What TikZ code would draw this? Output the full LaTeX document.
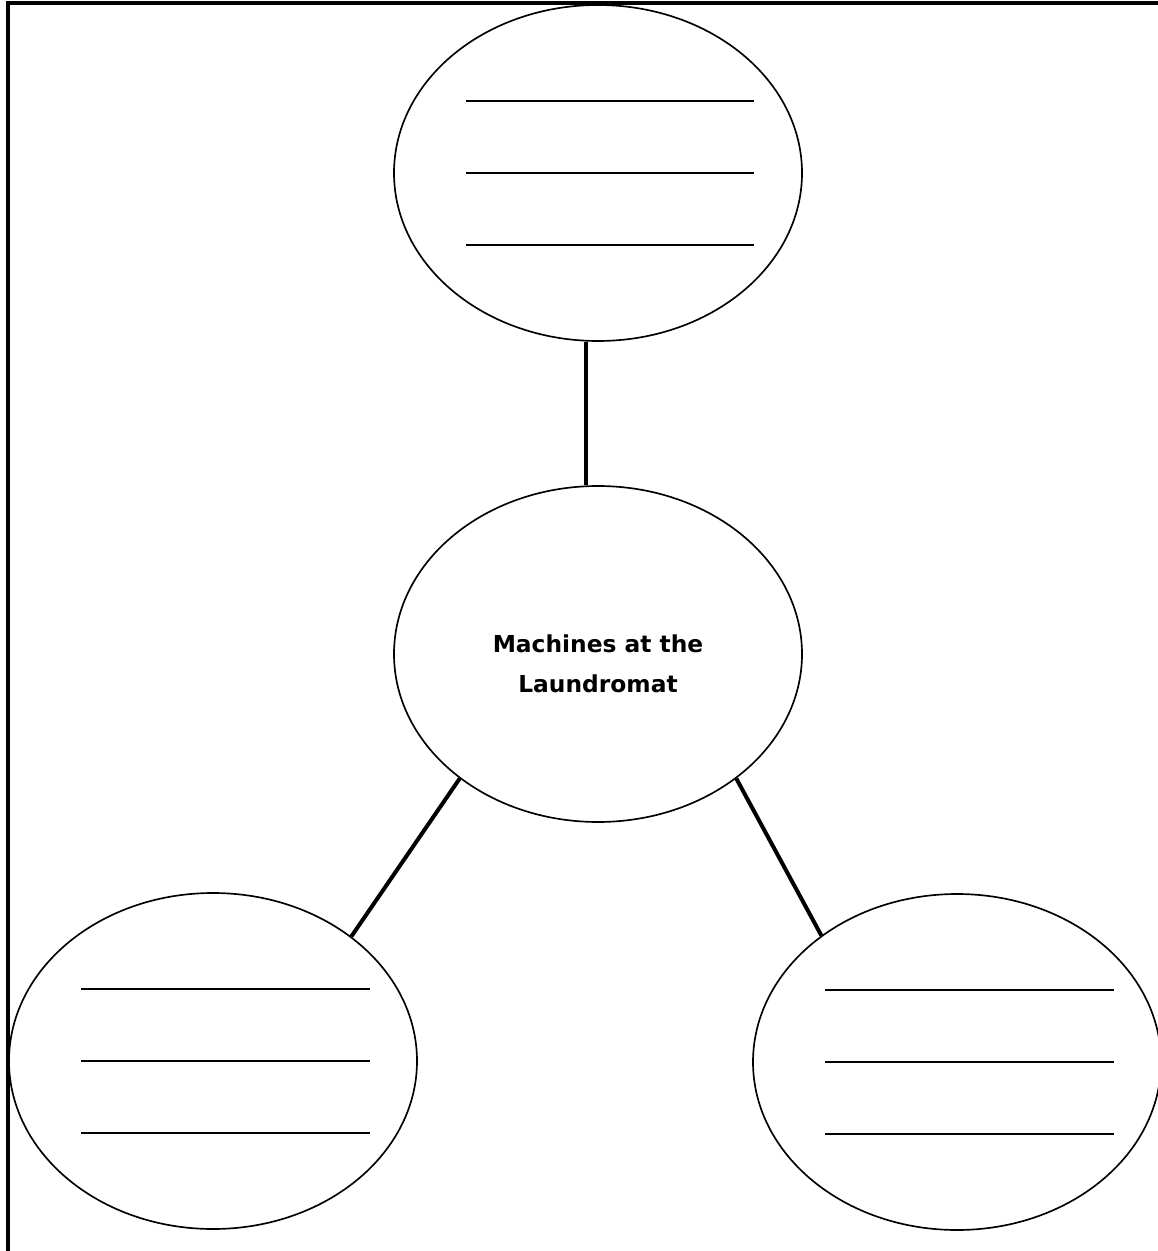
\documentclass[tikz,border=0pt]{standalone}
\usepackage{fontspec}
\setmainfont{DejaVu Sans}
\usetikzlibrary{shapes.geometric}
\tikzset{
  bubble/.style={draw, ellipse, line width=1.25pt, minimum width=306pt, minimum height=252pt, inner sep=0pt},
  writeline/.style={line width=1.2pt},
  link/.style={line width=3pt},
  frame/.style={line width=3pt},
  titletext/.style={align=center, font=\bfseries\fontsize{17.5}{30}\selectfont, inner sep=0pt}
}
\begin{document}
\begin{tikzpicture}[x=0.75pt,y=-0.75pt]
\useasboundingbox (0,0) rectangle (1157,1251);
\draw[frame] (8,1260) -- (8,3) -- (1165,3);
\node[bubble] (top) at (598,173) {};
\node[bubble] (mid) at (598,654) {};
\node[titletext] (title) at ([yshift=-7pt]mid.center) {Machines at the\\Laundromat};
\node[bubble] (bl) at (213,1061) {};
\node[bubble] (br) at (957,1062) {};
% writing lines
\foreach \yy/\n in {-72/a,0/b,72/c}{
  \coordinate (t\n l) at ([shift={(-132,\yy)}]top.center);
  \coordinate (t\n r) at ([shift={(156,\yy)}]top.center);
  \draw[writeline] (t\n l) -- (t\n r);
  \coordinate (l\n l) at ([shift={(-132,\yy)}]bl.center);
  \coordinate (l\n r) at ([shift={(157,\yy)}]bl.center);
  \draw[writeline] (l\n l) -- (l\n r);
  \coordinate (r\n l) at ([shift={(-132,\yy)}]br.center);
  \coordinate (r\n r) at ([shift={(157,\yy)}]br.center);
  \draw[writeline] (r\n l) -- (r\n r);
}
\draw[link] (top.-94) -- (mid.94);
\draw[link] (mid.222) -- (bl.42);
\draw[link] (mid.-42) -- (br.137);
\end{tikzpicture}
\end{document}
